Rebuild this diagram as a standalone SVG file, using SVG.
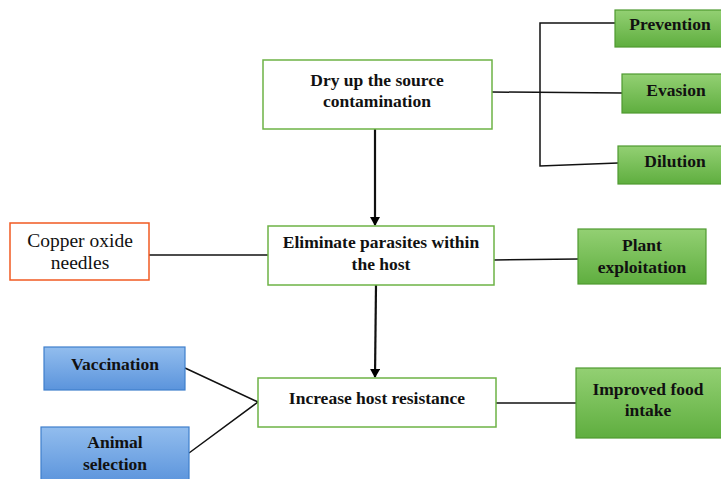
<svg xmlns="http://www.w3.org/2000/svg" width="721" height="479" viewBox="0 0 721 479">
<defs>
<linearGradient id="gg" x1="0" y1="0" x2="0" y2="1"><stop offset="0" stop-color="#93d073"/><stop offset="1" stop-color="#5fae3f"/></linearGradient>
<linearGradient id="bg" x1="0" y1="0" x2="0" y2="1"><stop offset="0" stop-color="#92bdee"/><stop offset="1" stop-color="#5b94dc"/></linearGradient>
<marker id="arr" markerWidth="10" markerHeight="10" refX="8" refY="5" orient="auto" markerUnits="userSpaceOnUse"><path d="M0,0 L9,5 L0,10 Z" fill="#000"/></marker>
<style>
text{font-family:"Liberation Serif","Times New Roman",serif;font-size:17.5px;fill:#111;text-anchor:middle}
.b{font-weight:bold}
.r{font-size:19.5px}
.wbox{fill:#fff;stroke:#6db346;stroke-width:1.5}
.gbox{fill:url(#gg);stroke:#4f9a30;stroke-width:1.2}
.bbox{fill:url(#bg);stroke:#3f7fcc;stroke-width:1.2}
.obox{fill:#fff;stroke:#f15a22;stroke-width:1.5}
.c{stroke:#111;stroke-width:1.5;fill:none}
.a{stroke:#111;stroke-width:2.2;fill:none}
</style>
</defs>
<rect width="721" height="479" fill="#fff"/>
<g id="connectors">
<line class="c" x1="492" y1="92" x2="622" y2="93"/>
<polyline class="c" points="615,23 540,23 540,166 618,163"/>
<line class="a" x1="375" y1="129" x2="375" y2="225" marker-end="url(#arr)"/>
<line class="a" x1="376" y1="285" x2="375" y2="377" marker-end="url(#arr)"/>
<line class="c" x1="149" y1="255" x2="268" y2="255"/>
<line class="c" x1="494" y1="260" x2="578" y2="259"/>
<polyline class="c" points="185,368 258,402 189,453"/>
<line class="c" x1="496" y1="403" x2="576" y2="403"/>
</g>
<g id="dry"><rect class="wbox" x="263" y="60" width="229" height="69"/><text class="b" x="377" y="86">Dry up the source</text><text class="b" x="377" y="107">contamination</text></g>
<g id="eliminate"><rect class="wbox" x="268" y="226" width="226" height="59"/><text class="b" x="381" y="248">Eliminate parasites within</text><text class="b" x="381" y="270">the host</text></g>
<g id="increase"><rect class="wbox" x="258" y="378" width="238" height="49"/><text class="b" x="377" y="404">Increase host resistance</text></g>
<g id="copper"><rect class="obox" x="10" y="223" width="139" height="57"/><text class="r" x="80" y="247">Copper oxide</text><text class="r" x="80" y="269">needles</text></g>
<g id="vaccination"><rect class="bbox" x="44" y="347" width="141" height="43"/><text class="b" x="115" y="370">Vaccination</text></g>
<g id="animal"><rect class="bbox" x="41" y="427" width="148" height="56"/><text class="b" x="115" y="448">Animal</text><text class="b" x="115" y="470">selection</text></g>
<g id="prevention"><rect class="gbox" x="615" y="10" width="110" height="37"/><text class="b" x="670" y="30">Prevention</text></g>
<g id="evasion"><rect class="gbox" x="622" y="74" width="103" height="39"/><text class="b" x="676" y="96">Evasion</text></g>
<g id="dilution"><rect class="gbox" x="618" y="146" width="107" height="38"/><text class="b" x="675" y="167">Dilution</text></g>
<g id="plant"><rect class="gbox" x="578" y="229" width="128" height="55"/><text class="b" x="642" y="251">Plant</text><text class="b" x="642" y="273">exploitation</text></g>
<g id="improved"><rect class="gbox" x="576" y="368" width="149" height="70"/><text class="b" x="648" y="395">Improved food</text><text class="b" x="648" y="416">intake</text></g>
</svg>
